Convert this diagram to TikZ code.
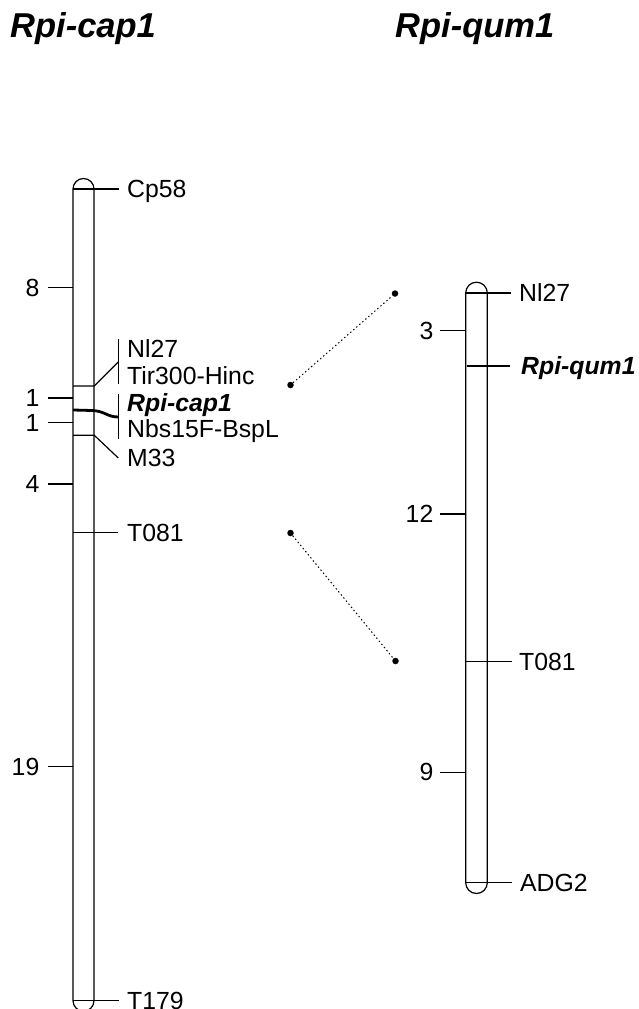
\documentclass[tikz,border=0pt]{standalone}
\usepackage{fontspec}
\setmainfont{Liberation Sans}
\begin{document}
\begin{tikzpicture}[x=1pt,y=-1pt,
  chrom/.style={line width=1.2pt},
  mk/.style={line width=1.2pt},
  thickmk/.style={line width=2.8pt},
  lbl/.style={anchor=base west, inner sep=0pt, font=\fontsize{24.8}{26}\selectfont},
  glbl/.style={anchor=base west, inner sep=0pt, font=\fontsize{24.8}{26}\selectfont\bfseries\itshape},
  num/.style={anchor=base east, inner sep=0pt, font=\fontsize{24.8}{26}\selectfont},
  ttl/.style={anchor=base west, inner sep=0pt, font=\fontsize{34.5}{36}\selectfont\bfseries\itshape},
  conn/.style={line width=1pt, dash pattern=on 1.4pt off 2.6pt},
  enddot/.style={circle, fill=black, inner sep=0pt, minimum size=6.5pt}]
\useasboundingbox (0,0) rectangle (638,1009);

% titles
\node[ttl] (t1) at (10,37.3) {Rpi-cap1};
\node[ttl] (t2) at (395,37.3) {Rpi-qum1};

% ---------- left chromosome ----------
\draw[chrom] (73,1000.7) -- (73,189) arc[start angle=180,end angle=0,radius=10.5pt]
  -- (94,1000.7) arc[start angle=0,end angle=-180,radius=10.5pt];

% markers
\draw[mk] (73,189) -- (119,189);
\node[lbl] (cp58) at (127,197.6) {Cp58};

\draw[mk] (73,386) -- (94.3,386) -- (118.3,362);
\draw[mk] (118.3,339) -- (118.3,384);
\node[lbl] (nl27a) at (127,357.8) {Nl27};
\node[lbl] (tir) at (127,384) {Tir300-Hinc};

\draw[thickmk] (73,410) -- (92,410.5) .. controls (105,411) and (107,417) .. (118.3,417);
\draw[mk] (118.3,394) -- (118.3,439);
\node[glbl] (rc) at (127,411.5) {Rpi-cap1};
\node[lbl] (nbs) at (127,437.8) {Nbs15F-BspL};

\draw[mk] (73,435.3) -- (94.3,435.3) -- (118.3,458);
\node[lbl] (m33) at (127,466.6) {M33};

\draw[mk] (73,532.7) -- (118.3,532.7);
\node[lbl] (t081a) at (127,541.3) {T081};

\draw[mk] (73,1000.7) -- (119,1000.7);
\node[lbl] (t179) at (127,1009.3) {T179};

% interval ticks
\foreach \yy/\tx in {287.5/8, 398/1, 422.5/1, 484/4, 766.5/19}{
  \draw[mk] (48,\yy) -- (73,\yy);
  \node[num] at (39.5,\yy+8.6) {\tx};
}

% ---------- right chromosome ----------
\draw[chrom] (465.7,882.7) -- (465.7,293) arc[start angle=180,end angle=0,radius=10.8pt]
  -- (487.3,882.7) arc[start angle=0,end angle=-180,radius=10.8pt];

\draw[mk] (465.7,293) -- (511,293);
\node[lbl] (nl27b) at (519,301.6) {Nl27};

\draw[thickmk] (466.5,366) -- (510,366);
\node[glbl] (rq) at (521,374.6) {Rpi-qum1};

\draw[mk] (465.7,661.7) -- (511.5,661.7);
\node[lbl] (t081b) at (519,670.3) {T081};

\draw[mk] (465.7,882.7) -- (512,882.7);
\node[lbl] (adg2) at (520,891.3) {ADG2};

\foreach \yy/\tx in {330.5/3, 514/12, 772.2/9}{
  \draw[mk] (440,\yy) -- (465.7,\yy);
  \node[num] at (433.5,\yy+8.6) {\tx};
}

% ---------- connectors ----------
\node[enddot] (a1) at (290.5,385) {};
\node[enddot] (b1) at (395,293.5) {};
\node[enddot] (a2) at (290.5,533) {};
\node[enddot] (b2) at (395.5,661) {};
\draw[conn] (a1) -- (b1);
\draw[conn] (a2) -- (b2);
\end{tikzpicture}
\end{document}
